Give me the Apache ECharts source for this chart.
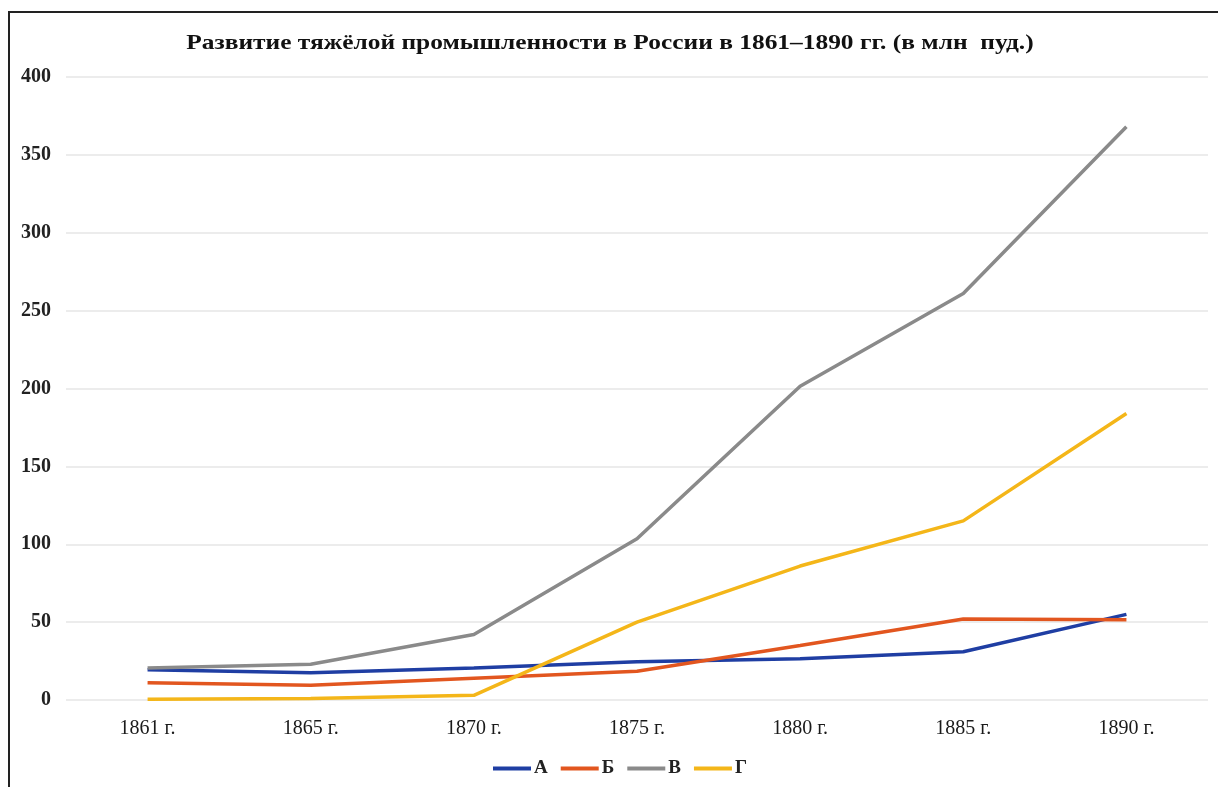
<!DOCTYPE html>
<html><head><meta charset="utf-8">
<script src="https://cdn.jsdelivr.net/npm/echarts@6/dist/echarts.min.js"></script>
<style>
html,body{margin:0;padding:0;background:#fff;}
#frame{position:absolute;left:8px;top:11px;width:1210px;height:776px;border-left:2px solid #222;border-top:2px solid #222;box-sizing:border-box;}
#c{position:absolute;left:0;top:0;width:1218px;height:787px;}
</style></head>
<body>
<div id="frame"></div>
<div id="c"></div>
<script>
const titleText = 'Развитие тяжёлой промышленности в России в 1861–1890 гг. (в млн  пуд.)';
const categories = ['1861 г.','1865 г.','1870 г.','1875 г.','1880 г.','1885 г.','1890 г.'];
const seriesNames = ['А','Б','В','Г'];
const valuesA = [19.5, 17.5, 20.5, 24.5, 26.5, 31, 55];
const valuesB = [11, 9.5, 14, 18.5, 35, 52, 51.5];
const valuesV = [20.5, 23, 42, 103.5, 201.5, 261, 368];
const valuesG = [0.5, 1, 3, 50, 86, 115, 184];
const colors = ['#1f3ea3','#e2561f','#8a8a8a','#f4b619'];
const data = [valuesA, valuesB, valuesV, valuesG];

const chart = echarts.init(document.getElementById('c'));
chart.setOption({
  backgroundColor: 'transparent',
  graphic: [{
    type: 'text', x: 610, y: 44, scaleX: 1.21, scaleY: 1,
    style: {
      text: titleText, x: 0, y: 0, align: 'center', verticalAlign: 'middle',
      font: 'bold 21px "Liberation Serif"', fill: '#111'
    }
  }],
  legend: {
    data: seriesNames, bottom: 4, left: 488,
    icon: 'path://M0,0 L40,0 L40,4 L0,4 Z', itemWidth: 38, itemHeight: 4, itemGap: 13,
    textStyle: {fontFamily: 'Liberation Serif', fontWeight: 'bold', fontSize: 19, color: '#222', padding: [0,0,0,-2]}
  },
  grid: {left: 66, right: 10, top: 77, bottom: 87},
  xAxis: {
    type: 'category', data: categories, boundaryGap: true,
    axisLine: {show: false}, axisTick: {show: false},
    axisLabel: {fontFamily: 'Liberation Serif', fontSize: 20, color: '#1a1a1a', margin: 19}
  },
  yAxis: {
    type: 'value', min: 0, max: 400, interval: 50,
    axisLine: {show: false}, axisTick: {show: false},
    splitLine: {lineStyle: {color: '#e6e6e6', width: 1.5}},
    axisLabel: {fontFamily: 'Liberation Serif', fontWeight: 'bold', fontSize: 20, color: '#222', margin: 15}
  },
  series: seriesNames.map((n, i) => ({
    name: n, type: 'line', data: data[i], symbol: 'none', smooth: false,
    lineStyle: {width: 3.5, color: colors[i]}, itemStyle: {color: colors[i]}
  }))
});
</script>
</body></html>
